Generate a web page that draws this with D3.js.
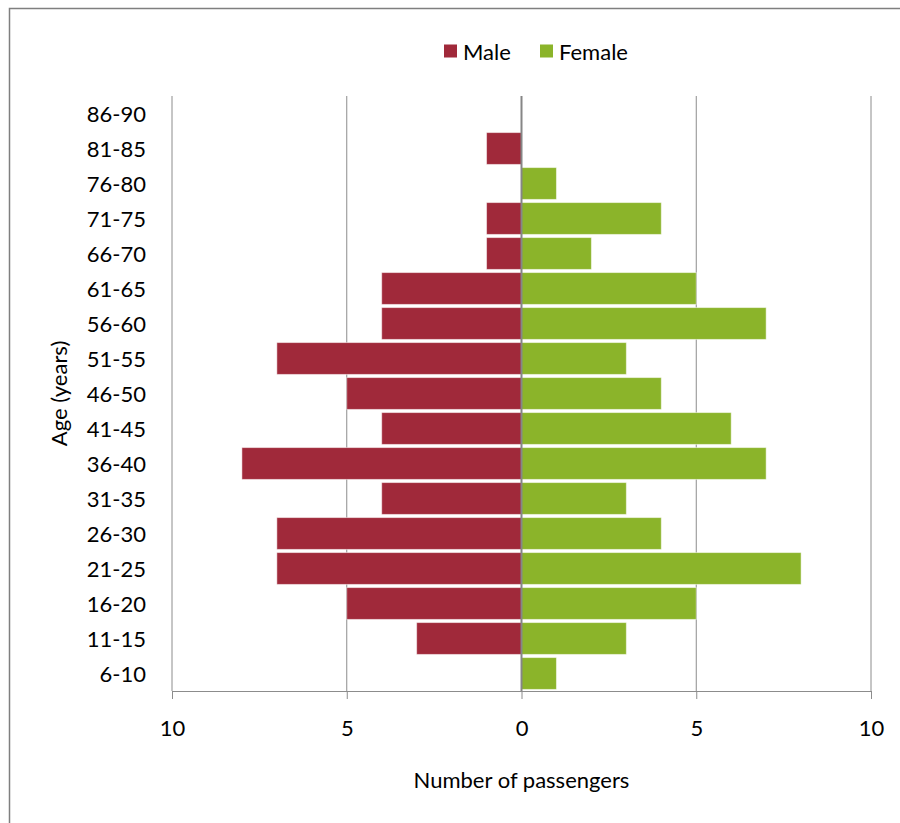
<!DOCTYPE html>
<html>
<head>
<meta charset="utf-8">
<script src="https://cdn.jsdelivr.net/npm/d3@7"></script>
<style>
  html, body { margin: 0; padding: 0; background: #fff; }
  svg { display: block; font-family: Lato, "Open Sans", sans-serif; }
</style>
</head>
<body>
<div id="chart"></div>
<script>
// Age groups from top to bottom, as in the picture
const ageGroups = ['86-90', '81-85', '76-80', '71-75', '66-70', '61-65', '56-60', '51-55',
  '46-50', '41-45', '36-40', '31-35', '26-30', '21-25', '16-20', '11-15', '6-10'];
const maleCounts = [0, 1, 0, 1, 1, 4, 4, 7, 5, 4, 8, 4, 7, 7, 5, 3, 0];
const femaleCounts = [0, 0, 1, 4, 2, 5, 7, 3, 4, 6, 7, 3, 4, 8, 5, 3, 1];
const xTicks = [-10, -5, 0, 5, 10];
const seriesNames = ['Male', 'Female'];

const W = 900, H = 823;
const margin = { top: 96, right: 29, bottom: 132, left: 172 };
const width = W - margin.left - margin.right;
const height = H - margin.top - margin.bottom;
const colors = { Male: '#A0293A', Female: '#8BB42A' };
const fontSize = '22px';

const svg = d3.select('#chart').append('svg')
  .attr('width', W)
  .attr('height', H);

// outer chart frame (runs past the right and bottom edges)
svg.append('rect')
  .attr('x', 9.5).attr('y', 8.5)
  .attr('width', W + 20).attr('height', H + 20)
  .attr('fill', 'none')
  .attr('stroke', '#7f7f7f')
  .attr('stroke-width', 1.5);

const g = svg.append('g')
  .attr('transform', `translate(${margin.left}, ${margin.top})`);

const x = d3.scaleLinear().domain([-10, 10]).range([0, width]);
const y = d3.scaleBand().domain(ageGroups).range([0, height]).paddingInner(0.09).paddingOuter(0.045);

// vertical gridlines
g.selectAll('.grid')
  .data(xTicks.filter(d => d !== 0))
  .enter()
  .append('line')
  .attr('x1', d => x(d)).attr('x2', d => x(d))
  .attr('y1', 0).attr('y2', height)
  .attr('stroke', '#8c8c8c')
  .attr('stroke-width', 1);

// bottom value axis
const xAxis = d3.axisBottom(x)
  .tickValues(xTicks)
  .tickFormat(d => Math.abs(d))
  .tickSize(8)
  .tickPadding(21);

const xg = g.append('g')
  .attr('transform', `translate(0, ${height})`)
  .call(xAxis);
xg.select('.domain').attr('stroke', '#8c8c8c');
xg.selectAll('line').attr('stroke', '#8c8c8c');
xg.selectAll('text')
  .style('font-size', fontSize)
  .style('font-family', 'Lato, "Open Sans", sans-serif')
  .style('fill', '#000');

// bars
const rows = ageGroups.map((a, i) => ({ age: a, Male: maleCounts[i], Female: femaleCounts[i] }));

g.selectAll('.male')
  .data(rows.filter(d => d.Male > 0))
  .enter()
  .append('rect')
  .attr('x', d => x(-d.Male))
  .attr('y', d => y(d.age))
  .attr('width', d => x(0) - x(-d.Male))
  .attr('height', y.bandwidth())
  .attr('fill', colors.Male)
  .attr('stroke', 'rgba(255,255,255,0.5)')
  .attr('stroke-width', 1);

g.selectAll('.female')
  .data(rows.filter(d => d.Female > 0))
  .enter()
  .append('rect')
  .attr('x', x(0))
  .attr('y', d => y(d.age))
  .attr('width', d => x(d.Female) - x(0))
  .attr('height', y.bandwidth())
  .attr('fill', colors.Female)
  .attr('stroke', 'rgba(255,255,255,0.5)')
  .attr('stroke-width', 1);

// category axis at zero
g.append('line')
  .attr('x1', x(0)).attr('x2', x(0))
  .attr('y1', 0).attr('y2', height)
  .attr('stroke', '#868686')
  .attr('stroke-width', 2);

// category labels on the left
g.selectAll('.age-label')
  .data(ageGroups)
  .enter()
  .append('text')
  .attr('x', -26)
  .attr('y', d => y(d) + y.bandwidth() / 2)
  .attr('text-anchor', 'end')
  .attr('dominant-baseline', 'central')
  .style('font-size', fontSize)
  .style('fill', '#000')
  .text(d => d);

// axis titles
svg.append('text')
  .attr('x', margin.left + x(0))
  .attr('y', 788)
  .attr('text-anchor', 'middle')
  .style('font-size', fontSize)
  .text('Number of passengers');

svg.append('text')
  .attr('transform', `translate(67, ${margin.top + height / 2}) rotate(-90)`)
  .attr('text-anchor', 'middle')
  .style('font-size', fontSize)
  .text('Age (years)');

// legend
const legendX = [444, 540];
const legend = svg.selectAll('.legend')
  .data(seriesNames)
  .enter()
  .append('g')
  .attr('transform', (d, i) => `translate(${legendX[i]}, 51)`);

legend.append('rect')
  .attr('x', 0).attr('y', -6.5)
  .attr('width', 13).attr('height', 13)
  .attr('fill', d => colors[d]);

legend.append('text')
  .attr('x', 19)
  .attr('y', 0)
  .attr('dominant-baseline', 'central')
  .style('font-size', fontSize)
  .text(d => d);
</script>
</body>
</html>
